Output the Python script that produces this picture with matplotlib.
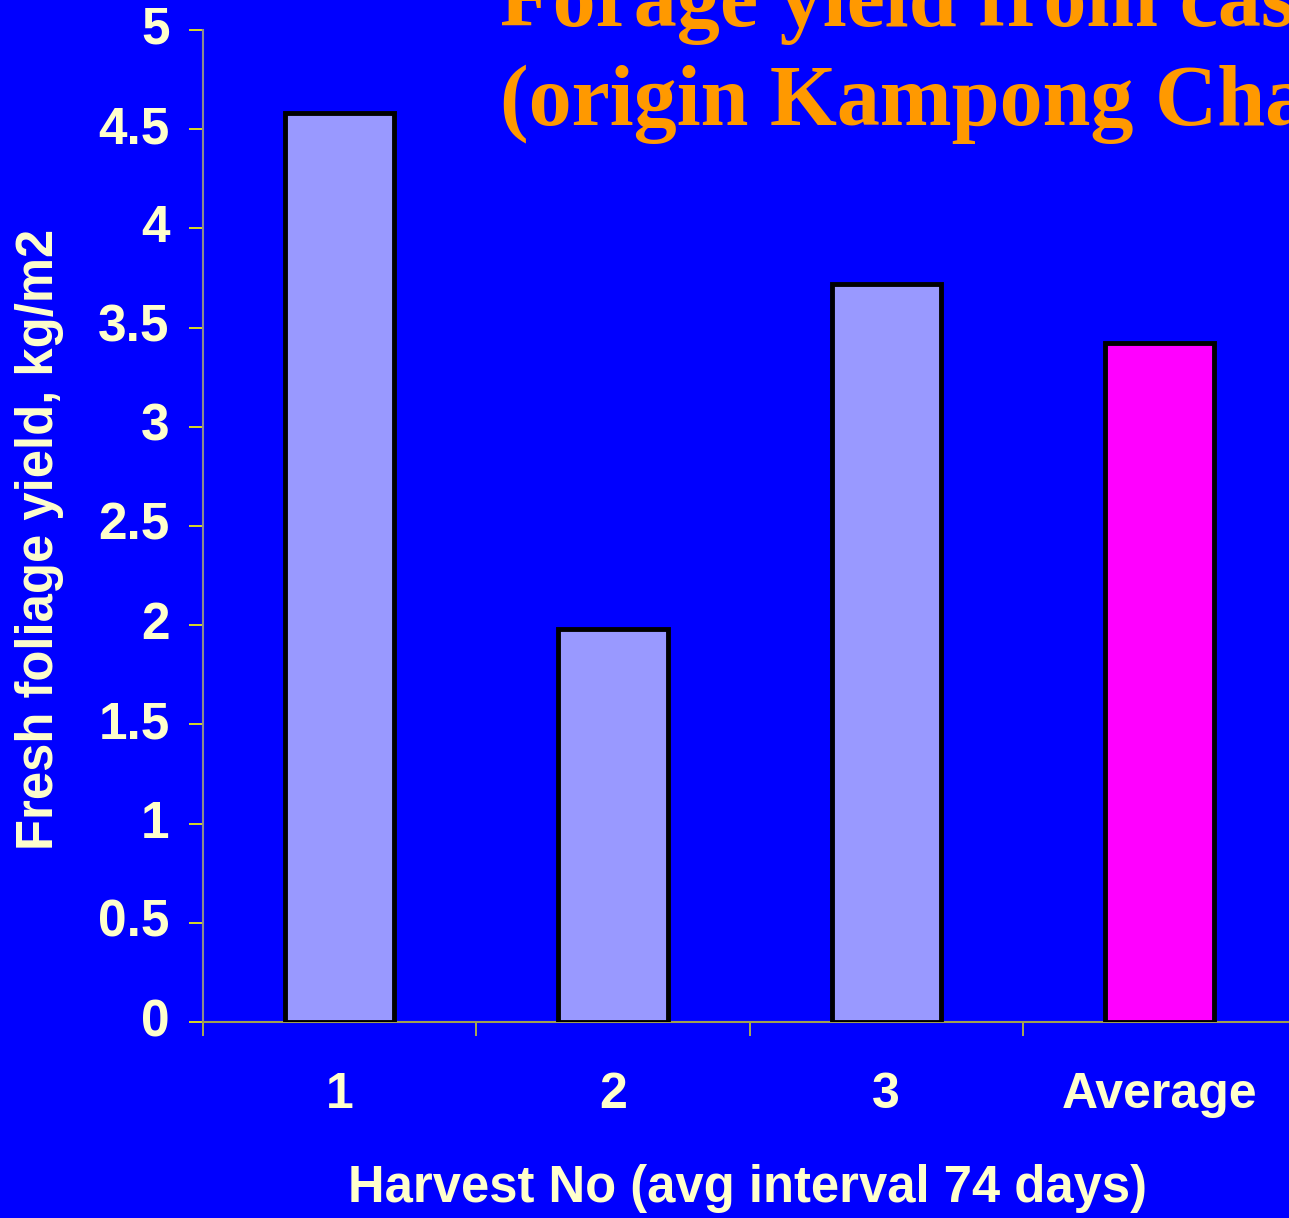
import numpy as np
import matplotlib.pyplot as plt
import matplotlib.transforms as mtransforms
from matplotlib.ticker import FixedLocator, NullFormatter

# data
harvests = ["1", "2", "3", "Average"]
yield_kg_m2 = [4.58, 1.98, 3.72, 3.42]
bar_colors = ["#9999ff", "#9999ff", "#9999ff", "#ff00ff"]

bg = "#0000ff"
txt = "#ffffcc"

plt.rcParams.update({
    "font.family": ["Liberation Sans", "DejaVu Sans"],
    "font.weight": "bold",
})

fig = plt.figure(figsize=(12.89, 12.18), dpi=100, facecolor=bg)
ax = fig.add_axes([0.1575, 0.1609, 0.848, 0.8145], facecolor=bg)

x = np.arange(len(harvests))
ax.bar(x, yield_kg_m2, width=0.4, color=bar_colors,
       edgecolor="black", linewidth=3.5, zorder=3)

ax.set_xlim(-0.5, 3.5)
ax.set_ylim(0, 5)
ax.set_yticks(np.arange(0, 5.01, 0.5))
ax.set_yticklabels(["0", "0.5", "1", "1.5", "2", "2.5", "3", "3.5", "4", "4.5", "5"])

# category boundaries get the tick marks, labels sit in the middle
ax.xaxis.set_major_locator(FixedLocator(x - 0.5))
ax.xaxis.set_major_formatter(NullFormatter())
ax.xaxis.set_minor_locator(FixedLocator(x))
ax.set_xticklabels(harvests, minor=True)

ax.tick_params(axis="y", colors="#ffff00", length=10, width=1.2, pad=14,
               labelcolor=txt, labelsize=37)
ax.tick_params(axis="x", which="major", colors="#c8c832", length=10, width=1.2)
ax.tick_params(axis="x", which="minor", length=0, pad=36,
               labelcolor=txt, labelsize=36)
for lab in ax.get_xticklabels(minor=True):
    lab.set_fontweight("bold")
# y labels sit a little above their ticks in the original
shift = mtransforms.ScaledTranslation(0, 5 / 100, fig.dpi_scale_trans)
for lab in ax.get_yticklabels():
    lab.set_fontweight("bold")
    lab.set_transform(lab.get_transform() + shift)

for s in ["top", "right"]:
    ax.spines[s].set_visible(False)
ax.spines["left"].set_color("#8c8c8c")
ax.spines["left"].set_linewidth(1.5)
ax.spines["bottom"].set_color("#a0a050")
ax.spines["bottom"].set_linewidth(1.5)

fig.text(0.580, 0.024, "Harvest No (avg interval 74 days)", ha="center", va="center",
         fontsize=36.5, fontweight="bold", color=txt)
fig.text(0.031, 0.557, "Fresh foliage yield, kg/m2", ha="center", va="center",
         rotation=90, fontsize=36.5, fontweight="bold", color=txt)

fig.text(0.388, 0.8974, "Forage yield from cassava\n(origin Kampong Cham)",
         ha="left", va="baseline", fontsize=62, fontweight="bold",
         color="#ff9900", family=["Liberation Serif", "DejaVu Serif"],
         linespacing=1.33)

fig.savefig("out.png", dpi=100, facecolor=bg)
